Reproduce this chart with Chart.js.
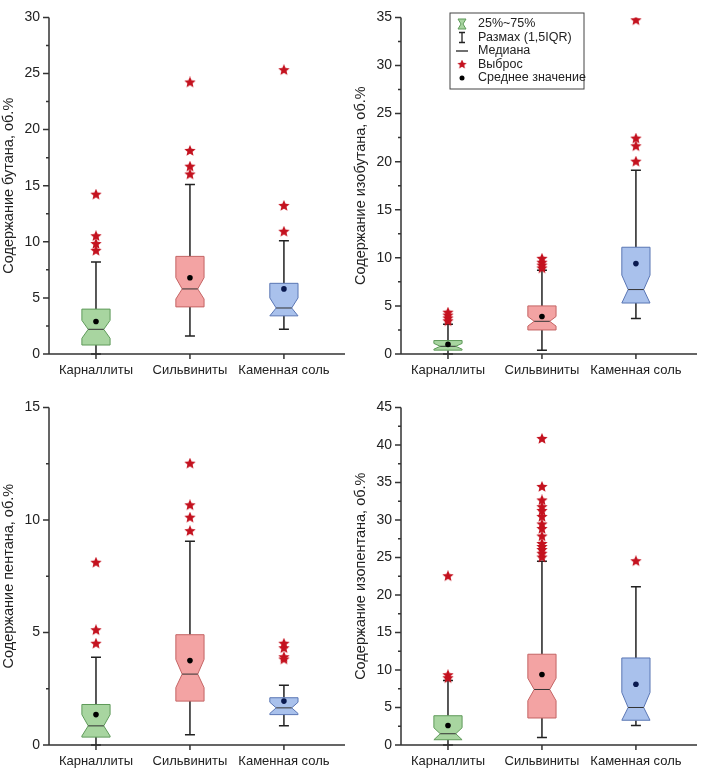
<!DOCTYPE html>
<html>
<head>
<meta charset="utf-8">
<script src="https://cdn.jsdelivr.net/npm/chart.js@4.4.1/dist/chart.umd.min.js"></script>
<style>
  body { margin: 0; background: #fff; }
  #grid { display: grid; grid-template-columns: 352px 352px; grid-template-rows: 390px 391px; width: 704px; }
  .cell { position: relative; width: 352px; height: 390px; }
</style>
</head>
<body>
<div id="grid">
  <div class="cell"><canvas id="c0"></canvas></div>
  <div class="cell"><canvas id="c1"></canvas></div>
  <div class="cell"><canvas id="c2"></canvas></div>
  <div class="cell"><canvas id="c3"></canvas></div>
</div>
<script>
// --- Data ---
const categories = ['Карналлиты', 'Сильвиниты', 'Каменная соль'];

const titles = [
    'Содержание бутана, об.%',
    'Содержание изобутана, об.%',
    'Содержание пентана, об.%',
    'Содержание изопентана, об.%'
];
const yMax = [30, 35, 15, 45];
const yStep = [5, 5, 5, 5];
const yMinorStep = [2.5, 2.5, 2.5, 2.5];

// per panel, per category
const q1 = [[0.8, 4.2, 3.5], [0.4, 2.5, 5.4], [0.35, 1.95, 1.35], [0.7, 3.6, 3.6]];
const median = [[2.2, 5.8, 4.1], [0.8, 3.4, 6.7], [0.85, 3.15, 1.65], [1.5, 7.4, 5.0]];
const q3 = [[4.0, 8.7, 6.3], [1.4, 5.0, 11.1], [1.8, 4.9, 2.1], [3.9, 12.1, 11.6]];
const notchLow = [[1.4, 4.9, 3.4], [0.5, 2.9, 5.3], [0.4, 2.55, 1.4], [0.7, 5.9, 3.3]];
const notchHigh = [[3.0, 6.8, 5.0], [1.1, 3.9, 8.2], [1.35, 3.8, 1.9], [2.3, 8.9, 7.0]];
const whiskerLow = [[0, 1.6, 2.2], [0, 0.4, 3.7], [0, 0.45, 0.85], [0, 1.0, 2.6]];
const whiskerHigh = [[8.2, 15.1, 10.1], [3.1, 8.7, 19.1], [3.9, 9.05, 2.65], [8.6, 24.5, 21.1]];
const means = [[2.9, 6.8, 5.8], [1.0, 3.9, 9.4], [1.35, 3.75, 1.95], [2.6, 9.4, 8.1]];
const outliers = [
    [[14.2, 10.5, 9.8, 9.2], [24.2, 18.1, 16.7, 16.0], [25.3, 13.2, 10.9]],
    [[4.3, 4.0, 3.7, 3.4], [9.9, 9.5, 9.2, 8.9], [34.7, 22.4, 21.6, 20.0]],
    [[8.1, 5.1, 4.5], [12.5, 10.65, 10.1, 9.5], [4.5, 4.3, 3.9, 3.8]],
    [[22.5, 9.3, 8.9], [40.8, 34.4, 32.6, 31.7, 31.2, 30.4, 29.4, 28.8, 27.8, 26.8, 26.4, 26.0, 25.5, 25.0], [24.5]]
];

const legendLabels = ['25%~75%', 'Размах (1,5IQR)', 'Медиана', 'Выброс', 'Среднее значение'];

// --- Styles ---
const fills = ['#a8d5a0', '#f3a3a3', '#a9c1ec'];
const strokes = ['#5f9a5a', '#c46464', '#5a76b4'];
const meanColors = ['#000000', '#000000', '#0a1a50'];
const STAR = '#c4121f';
const FONT = '"Liberation Sans", Arial, sans-serif';

function makeStar(size, color) {
    const c = document.createElement('canvas');
    c.width = size; c.height = size;
    const g = c.getContext('2d');
    const cx = size / 2, cy = size / 2, R = size / 2, r = R * 0.45;
    g.beginPath();
    for (let i = 0; i < 10; i++) {
        const a = -Math.PI / 2 + i * Math.PI / 5;
        const rad = i % 2 === 0 ? R : r;
        g.lineTo(cx + rad * Math.cos(a), cy + rad * Math.sin(a));
    }
    g.closePath();
    g.fillStyle = color;
    g.fill();
    return c;
}
const starImg = makeStar(12, STAR);

function drawNotchBox(ctx, cx, halfW, p, fill, stroke) {
    const L = cx - halfW, R = cx + halfW, inset = halfW * 0.45;
    const bottom = Math.max(p.q1, p.nLow); // pixel: larger = lower
    const top = Math.min(p.q3, p.nHigh);
    ctx.beginPath();
    ctx.moveTo(L, top);
    ctx.lineTo(L, p.nHigh);
    ctx.lineTo(L + inset, p.med);
    ctx.lineTo(L, p.nLow);
    ctx.lineTo(L, bottom);
    ctx.lineTo(R, bottom);
    ctx.lineTo(R, p.nLow);
    ctx.lineTo(R - inset, p.med);
    ctx.lineTo(R, p.nHigh);
    ctx.lineTo(R, top);
    ctx.closePath();
    ctx.fillStyle = fill;
    ctx.fill();
    ctx.strokeStyle = stroke;
    ctx.lineWidth = 1;
    ctx.stroke();
    ctx.beginPath();
    ctx.moveTo(L + inset, p.med);
    ctx.lineTo(R - inset, p.med);
    ctx.strokeStyle = '#333';
    ctx.stroke();
}

// --- Box plot plugin: draws boxes through the chart scales ---
const boxPlugin = {
    id: 'boxes',
    beforeDatasetsDraw(chart) {
        const k = chart.options.plugins.boxes.panel;
        const xs = chart.scales.x, ys = chart.scales.y;
        const ctx = chart.ctx;
        ctx.save();
        const halfW = (xs.getPixelForValue(1) - xs.getPixelForValue(0)) * 0.15;
        categories.forEach((_, i) => {
            const cx = xs.getPixelForValue(i);
            const px = v => ys.getPixelForValue(v);
            const p = {
                q1: px(q1[k][i]), q3: px(q3[k][i]), med: px(median[k][i]),
                nLow: px(notchLow[k][i]), nHigh: px(notchHigh[k][i])
            };
            // whiskers
            ctx.strokeStyle = '#222';
            ctx.lineWidth = 1.5;
            ctx.beginPath();
            ctx.moveTo(cx, px(whiskerHigh[k][i])); ctx.lineTo(cx, Math.min(p.q3, p.nHigh));
            ctx.moveTo(cx, Math.max(p.q1, p.nLow)); ctx.lineTo(cx, px(whiskerLow[k][i]));
            ctx.moveTo(cx - 5, px(whiskerHigh[k][i])); ctx.lineTo(cx + 5, px(whiskerHigh[k][i]));
            ctx.moveTo(cx - 5, px(whiskerLow[k][i])); ctx.lineTo(cx + 5, px(whiskerLow[k][i]));
            ctx.stroke();
            drawNotchBox(ctx, cx, halfW, p, fills[i], strokes[i]);
        });
        ctx.restore();
    },
    afterDraw(chart) {
        const k = chart.options.plugins.boxes.panel;
        const ys = chart.scales.y, xs = chart.scales.x;
        const ctx = chart.ctx;
        const left = chart.chartArea.left;
        ctx.save();
        // axis lines and minor ticks
        ctx.strokeStyle = '#333';
        ctx.lineWidth = 1.5;
        ctx.beginPath();
        ctx.moveTo(left, ys.getPixelForValue(yMax[k]));
        ctx.lineTo(left, ys.getPixelForValue(0));
        ctx.lineTo(chart.chartArea.right, ys.getPixelForValue(0));
        for (let v = 0; v <= yMax[k] + 1e-9; v += yMinorStep[k]) {
            const y = ys.getPixelForValue(v);
            const len = Math.abs(v / yStep[k] - Math.round(v / yStep[k])) < 1e-9 ? 6 : 3;
            ctx.moveTo(left - len, y); ctx.lineTo(left, y);
        }
        categories.forEach((_, i) => {
            const x = xs.getPixelForValue(i);
            ctx.moveTo(x, ys.getPixelForValue(0)); ctx.lineTo(x, ys.getPixelForValue(0) + 5);
        });
        ctx.stroke();

        if (k === 1) {
            // legend
            const bx = 98, by = 13, bw = 134, bh = 76;
            ctx.lineWidth = 1;
            ctx.strokeStyle = '#444';
            ctx.fillStyle = '#fff';
            ctx.fillRect(bx, by, bw, bh);
            ctx.strokeRect(bx, by, bw, bh);
            ctx.font = '12.5px ' + FONT;
            ctx.textBaseline = 'middle';
            const ix = bx + 12;
            legendLabels.forEach((t, j) => {
                const y = by + 11 + j * 13.5;
                ctx.fillStyle = '#222';
                ctx.fillText(t, bx + 28, y);
                ctx.beginPath();
                if (j === 0) {
                    ctx.moveTo(ix - 4, y - 5); ctx.lineTo(ix + 4, y - 5); ctx.lineTo(ix + 1, y);
                    ctx.lineTo(ix + 4, y + 5); ctx.lineTo(ix - 4, y + 5); ctx.lineTo(ix - 1, y); ctx.closePath();
                    ctx.fillStyle = fills[0]; ctx.fill(); ctx.strokeStyle = strokes[0]; ctx.stroke();
                } else if (j === 1) {
                    ctx.moveTo(ix - 3, y - 5); ctx.lineTo(ix + 3, y - 5);
                    ctx.moveTo(ix, y - 5); ctx.lineTo(ix, y + 5);
                    ctx.moveTo(ix - 3, y + 5); ctx.lineTo(ix + 3, y + 5);
                    ctx.strokeStyle = '#222'; ctx.lineWidth = 1.3; ctx.stroke();
                } else if (j === 2) {
                    ctx.moveTo(ix - 6, y); ctx.lineTo(ix + 6, y);
                    ctx.strokeStyle = '#222'; ctx.lineWidth = 1.3; ctx.stroke();
                } else if (j === 3) {
                    ctx.drawImage(starImg, ix - 5, y - 5, 10, 10);
                } else {
                    ctx.arc(ix, y, 2.5, 0, Math.PI * 2);
                    ctx.fillStyle = '#000'; ctx.fill();
                }
            });
        }
        ctx.restore();
    }
};

// --- Build charts ---
function buildChart(k) {
    const outlierPoints = [];
    outliers[k].forEach((list, i) => list.forEach(v => outlierPoints.push({ x: i, y: v })));
    const meanPoints = means[k].map((v, i) => ({ x: i, y: v }));

    return new Chart(document.getElementById('c' + k), {
        type: 'scatter',
        data: {
            datasets: [
                {
                    label: 'outliers',
                    data: outlierPoints,
                    pointStyle: starImg,
                    pointRadius: 6
                },
                {
                    label: 'means',
                    data: meanPoints,
                    pointStyle: 'circle',
                    pointRadius: 2.8,
                    pointBackgroundColor: meanColors,
                    pointBorderWidth: 0
                }
            ]
        },
        options: {
            responsive: false,
            animation: false,
            devicePixelRatio: 1,
            layout: { padding: { top: 9, right: 2, left: 0, bottom: 0 } },
            plugins: {
                legend: { display: false },
                tooltip: { enabled: false },
                boxes: { panel: k }
            },
            scales: {
                x: {
                    type: 'linear',
                    min: -0.5,
                    max: 2.65,
                    grid: { display: false, drawTicks: false },
                    border: { display: false },
                    afterBuildTicks: s => { s.ticks = categories.map((_, i) => ({ value: i })); },
                    afterFit: s => { s.height = 36; },
                    ticks: {
                        callback: v => categories[v],
                        color: '#222',
                        font: { family: FONT, size: 13 },
                        padding: 9,
                        maxRotation: 0,
                        autoSkip: false
                    }
                },
                y: {
                    min: 0,
                    max: yMax[k],
                    grid: { display: false, drawTicks: false },
                    border: { display: false },
                    afterFit: s => { s.width = 49; },
                    ticks: {
                        stepSize: yStep[k],
                        color: '#222',
                        font: { family: FONT, size: 14 },
                        padding: 9
                    },
                    title: {
                        display: true,
                        text: titles[k],
                        color: '#222',
                        font: { family: FONT, size: 14.5 },
                        padding: { top: 0, bottom: 2 }
                    }
                }
            }
        },
        plugins: [boxPlugin]
    });
}

[0, 1, 2, 3].forEach(k => {
    const cv = document.getElementById('c' + k);
    cv.width = 352; cv.height = k < 2 ? 390 : 391;
    buildChart(k);
});
</script>
</body>
</html>
